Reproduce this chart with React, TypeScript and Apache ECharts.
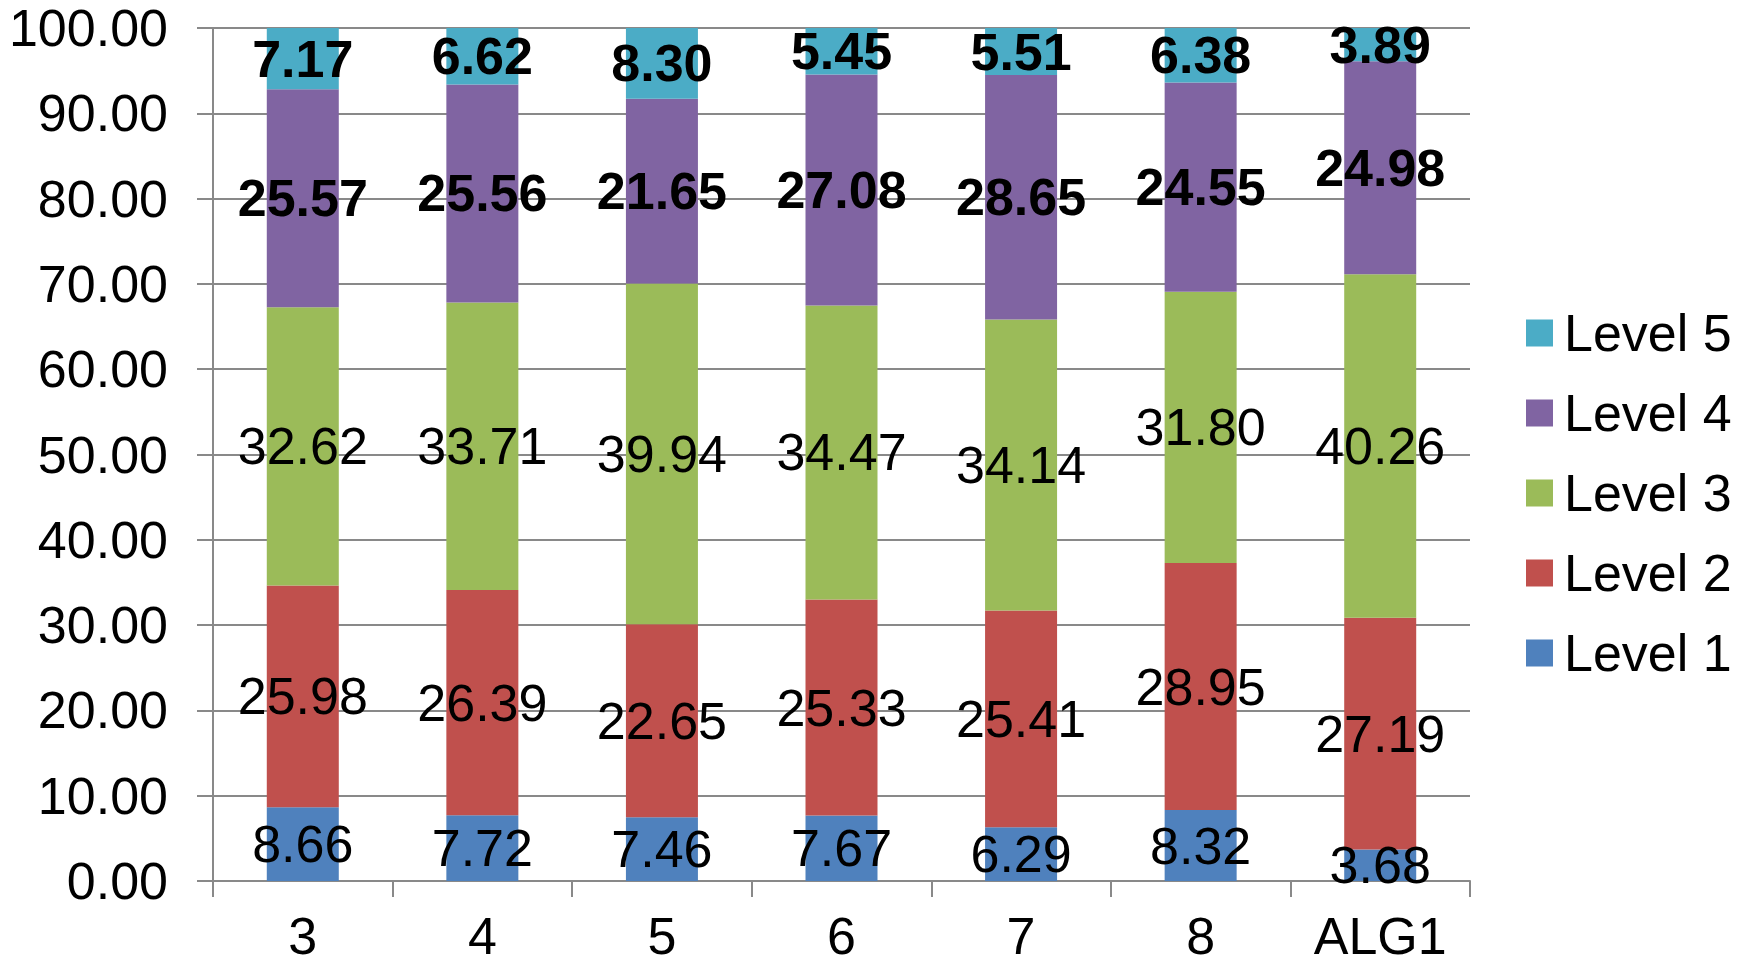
import React, { useEffect, useRef } from 'react';
import * as echarts from 'echarts';

const categories = ['3', '4', '5', '6', '7', '8', 'ALG1'];
const level1 = [8.66, 7.72, 7.46, 7.67, 6.29, 8.32, 3.68];
const level2 = [25.98, 26.39, 22.65, 25.33, 25.41, 28.95, 27.19];
const level3 = [32.62, 33.71, 39.94, 34.47, 34.14, 31.8, 40.26];
const level4 = [25.57, 25.56, 21.65, 27.08, 28.65, 24.55, 24.98];
const level5 = [7.17, 6.62, 8.3, 5.45, 5.51, 6.38, 3.89];
const seriesNames = ['Level 1', 'Level 2', 'Level 3', 'Level 4', 'Level 5'];
const seriesData = [level1, level2, level3, level4, level5];
const seriesBold = [false, false, false, true, true];
const colors = ['#4F81BD', '#C0504D', '#9BBB59', '#8064A2', '#4BACC6'];
const legendOrder = ['Level 5', 'Level 4', 'Level 3', 'Level 2', 'Level 1'];

const FONT = '"Liberation Sans", Arial, sans-serif';
const GRAY = '#898989';

export default function App() {
  const ref = useRef<HTMLDivElement>(null);
  useEffect(() => {
    if (!ref.current) return;
    const chart = echarts.init(ref.current, undefined, { renderer: 'svg' });
    chart.setOption({
      animation: false,
      backgroundColor: '#ffffff',
      textStyle: { fontFamily: FONT },
      grid: { left: 213, right: 282, top: 28, bottom: 85, containLabel: false },
      legend: {
        orient: 'vertical',
        left: 1521,
        top: 302,
        data: legendOrder,
        icon: 'rect',
        itemWidth: 27,
        itemHeight: 27,
        itemGap: 28,
        textStyle: { fontSize: 52, color: '#000', fontFamily: FONT, padding: [0, 0, 0, 6] },
      },
      xAxis: {
        type: 'category',
        data: categories,
        axisLine: { show: true, lineStyle: { color: GRAY, width: 2 } },
        axisTick: { show: true, length: 16, lineStyle: { color: GRAY, width: 2 } },
        axisLabel: { color: '#000', fontSize: 52, lineHeight: 40, fontFamily: FONT, margin: 35 },
        splitLine: { show: false },
      },
      yAxis: {
        type: 'value',
        min: 0,
        max: 100,
        interval: 10,
        axisLine: { show: true, lineStyle: { color: GRAY, width: 2 } },
        axisTick: { show: true, length: 16, lineStyle: { color: GRAY, width: 2 } },
        axisLabel: {
          color: '#000',
          fontSize: 52,
          fontFamily: FONT,
          margin: 45,
          formatter: (v: number) => v.toFixed(2),
        },
        splitLine: { show: true, lineStyle: { color: GRAY, width: 2 } },
      },
      series: seriesNames.map((name, i) => ({
        name,
        type: 'bar',
        stack: 'total',
        barWidth: 72,
        data: seriesData[i],
        itemStyle: { color: colors[i] },
        label: {
          show: true,
          position: 'inside',
          color: '#000',
          fontSize: 52,
          fontFamily: FONT,
          fontWeight: seriesBold[i] ? 'bold' : 'normal',
          formatter: (p: any) => Number(p.value).toFixed(2),
        },
      })),
    });
    return () => chart.dispose();
  }, []);
  return (
    <div
      ref={ref}
      style={{ position: 'fixed', left: 0, top: 0, width: 1752, height: 966 }}
    />
  );
}
